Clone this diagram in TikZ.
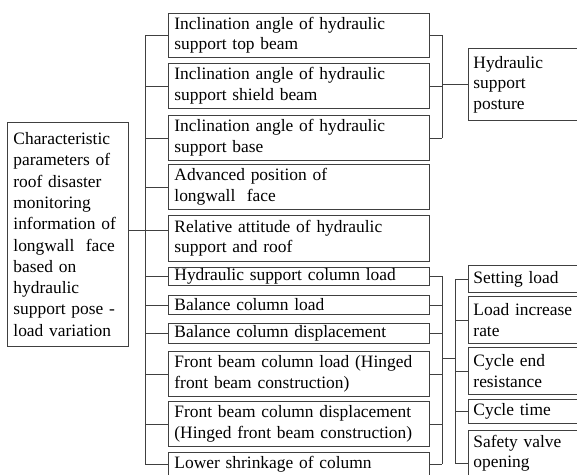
\documentclass[tikz,border=0pt]{standalone}
\usepackage{fontspec}
\setmainfont{Liberation Serif}
\begin{document}
\begin{tikzpicture}[x=1pt,y=-1pt,
  box/.style={draw=black!75, line width=0.9pt, anchor=north west, align=left,
    inner xsep=6pt, inner ysep=0pt, font=\fontsize{17.4}{20.5}\selectfont},
  mid/.style={box, text width=249pt},
  rgt/.style={box, inner xsep=5pt, text width=130pt},
  conn/.style={draw=black!75, line width=0.9pt}]
\useasboundingbox (0,0) rectangle (577,474);
\clip (0,0) rectangle (577,474);
% root
\node[box, text width=109pt, minimum height=224pt, font=\fontsize{17.4}{21.3}\selectfont] (L) at (7,122) {Characteristic\\parameters of\\roof disaster\\monitoring\\information of\\longwall~ face\\based on\\hydraulic\\support pose -\\load variation};
% middle column
\node[mid, minimum height=44pt] (m1) at (168,13) {Inclination angle of hydraulic\\support top beam};
\node[mid, minimum height=45pt] (m2) at (168,63) {Inclination angle of hydraulic\\support shield beam};
\node[mid, minimum height=45pt] (m3) at (168,115) {Inclination angle of hydraulic\\support base};
\node[mid, minimum height=45pt] (m4) at (168,164) {Advanced position of\\longwall~ face};
\node[mid, minimum height=46pt] (m5) at (168,215) {Relative attitude of hydraulic\\support and roof};
\node[mid, minimum height=18pt] (m6) at (168,267) {Hydraulic support column load};
\node[mid, minimum height=19pt] (m7) at (168,295) {Balance column load};
\node[mid, minimum height=20pt] (m8) at (168,323) {Balance column displacement};
\node[mid, minimum height=45pt] (m9) at (168,351) {Front beam column load (Hinged\\front beam construction)};
\node[mid, minimum height=45pt] (m10) at (168,401) {Front beam column displacement\\(Hinged front beam construction)};
\node[mid, minimum height=23pt] (m11) at (168,452) {Lower shrinkage of column};
% right column
\node[rgt, minimum height=72pt] (P) at (468,48) {Hydraulic\\support\\posture};
\node[rgt, minimum height=27pt] (R1) at (468,265) {Setting load};
\node[rgt, minimum height=47pt] (R2) at (468,296) {Load increase\\rate};
\node[rgt, minimum height=47pt] (R3) at (468,347) {Cycle end\\resistance};
\node[rgt, minimum height=24pt] (R4) at (468,399) {Cycle time};
\node[rgt, minimum height=46pt] (R5) at (468,430) {Safety valve\\opening};
% trunk positions
\coordinate (tL) at (145,0);
\coordinate (tM) at (442,0);
\coordinate (tR) at (455,0);
% root connectors
\coordinate (Lo) at ([yshift=4pt]L.east);
\draw[conn] (Lo) -- (Lo -| m5.west);
\draw[conn] (m1.west -| tL) -- (m11.west -| tL);
\foreach \m in {m1,m2,m3,m4,m6,m7,m8,m9,m10,m11}
  \draw[conn] (\m.west) -- (\m.west -| tL);
% posture group
\foreach \m in {m1,m2,m3}
  \draw[conn] (\m.east) -- (\m.east -| tM);
\draw[conn] (m1.east -| tM) -- (m3.east -| tM);
\draw[conn] (P.west) -- (P.west -| tM);
% load group
\foreach \m in {m6,m7,m8,m9,m10,m11}
  \draw[conn] (\m.east) -- (\m.east -| tM);
\draw[conn] (m6.east -| tM) -- (m11.east -| tM);
\coordinate (j) at (442,358);
\draw[conn] (j) -- (j -| tR);
\coordinate (r5b) at ([yshift=-10pt]R5.west);
\draw[conn] (R1.west -| tR) -- (r5b -| tR);
\foreach \r in {R1,R2,R3,R4}
  \draw[conn] (\r.west) -- (\r.west -| tR);
\draw[conn] (r5b) -- (r5b -| tR);
\end{tikzpicture}
\end{document}
